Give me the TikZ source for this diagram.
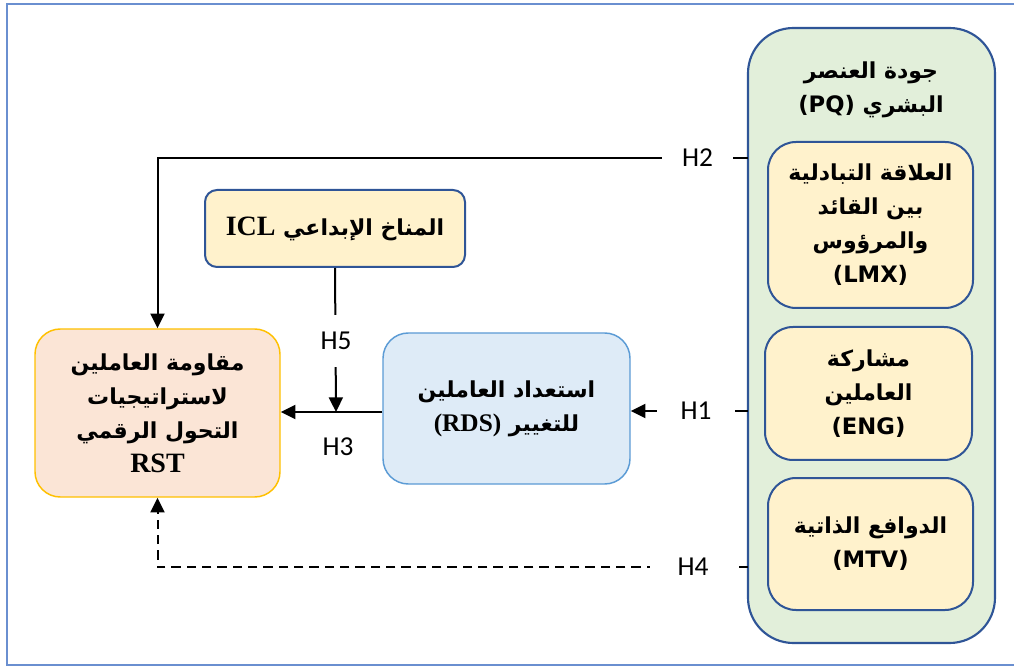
\documentclass[tikz,border=0pt]{standalone}
\usepackage{fontspec}
\usetikzlibrary{arrows.meta}
\TeXXeTstate=1
\newfontfamily\arabicfont[Script=Arabic]{DejaVu Sans}
\newfontfamily\latsans{DejaVu Sans}
\newfontfamily\timesfont{Liberation Serif}
\newfontfamily\hfont{Carlito}
\definecolor{pqblue}{HTML}{2F5597}
\definecolor{framebl}{HTML}{6A8FD0}
\definecolor{pqgreen}{HTML}{E2EFDA}
\definecolor{softyel}{HTML}{FFF2CC}
\definecolor{rstfill}{HTML}{FBE5D6}
\definecolor{rstline}{HTML}{FFC000}
\definecolor{rdsfill}{HTML}{DEEBF7}
\definecolor{rdsline}{HTML}{5B9BD5}
\newcommand\artext[1]{\beginR#1\endR}
\newcommand\ltrtext[1]{\beginL#1\endL}
\newcommand\latb{\latsans\bfseries\fontsize{17}{26}\selectfont}
\begin{document}
\begin{tikzpicture}[x=0.75pt,y=-0.75pt,
  arfont/.style={font=\arabicfont\bfseries\fontsize{16.5}{25.5}\selectfont},
  ybox/.style={draw=pqblue, line width=1.5pt, fill=softyel, rounded corners=21pt, align=center, inner sep=0pt, arfont},
  conn/.style={line width=1.5pt, -{Triangle[length=11pt,width=10.5pt]}},
  hlab/.style={font=\hfont\fontsize{20.5}{24}\selectfont, fill=white, inner sep=0pt}
]
\useasboundingbox (0,0) rectangle (1014,666);
% outer frame
\draw[framebl, line width=1.3pt] (1030,4) -- (7,4) -- (7,665) -- (1030,665);

% right panel
\node[draw=pqblue, line width=1.6pt, fill=pqgreen, rounded corners=34pt,
      minimum width=247*0.75pt, minimum height=615*0.75pt, inner sep=0pt] (pq) at (871.5,335.5) {};
\node[arfont, align=center] (pqtitle) at (871,90)
  {\artext{جودة العنصر}\\ \artext{البشري \ltrtext{\latb (PQ)}}};
\node[ybox, minimum width=205*0.75pt, minimum height=166*0.75pt] (lmx) at (870.5,225)
  {\artext{العلاقة التبادلية}\\ \artext{بين القائد}\\ \artext{والمرؤوس}\\ {\latb (LMX)}};
\node[ybox, minimum width=207*0.75pt, minimum height=133*0.75pt] (eng) at (868.5,393.5)
  {\artext{مشاركة}\\ \artext{العاملين}\\ {\latb (ENG)}};
\node[ybox, minimum width=205*0.75pt, minimum height=132*0.75pt] (mtv) at (870.5,544)
  {\artext{الدوافع الذاتية}\\ {\latb (MTV)}};

% ICL
\node[ybox, rounded corners=9pt, minimum width=260*0.75pt, minimum height=77*0.75pt] (icl) at (335,228.5)
  {\artext{المناخ الإبداعي \ltrtext{\timesfont\bfseries\fontsize{21}{26}\selectfont ICL}}};

% RST
\node[draw=rstline, line width=1.1pt, fill=rstfill, rounded corners=19pt, align=center, inner sep=0pt, arfont,
      minimum width=245*0.75pt, minimum height=168*0.75pt] (rst) at (157.5,413)
  {\artext{مقاومة العاملين}\\ \artext{لاستراتيجيات}\\ \artext{التحول الرقمي}\\ {\timesfont\bfseries\fontsize{21}{26}\selectfont RST}};

% RDS
\node[draw=rdsline, line width=1.1pt, fill=rdsfill, rounded corners=19pt, align=center, inner sep=0pt, arfont,
      minimum width=247*0.75pt, minimum height=151*0.75pt] (rds) at (506.5,408.5)
  {\artext{استعداد العاملين}\\ \artext{للتغيير \ltrtext{\timesfont\bfseries\fontsize{19}{26}\selectfont (RDS)}}};

% connector coordinates
\coordinate (h2s) at (748,158);
\coordinate (h1s) at (748,411);
\coordinate (h4s) at (748,567);
\coordinate (h3) at (336,412);

% H2
\draw[conn] (h2s) -- (h2s -| rst.north) -- (rst.north);
\node[hlab, minimum width=53pt, minimum height=20pt] (lh2) at (697.5,158) {H2};
% H1
\draw[conn] (h1s) -- (h1s -| rds.east);
\node[hlab, minimum width=58pt, minimum height=20pt] (lh1) at (696,411) {H1};
% H4
\draw[line width=1.5pt, dash pattern=on 7pt off 4.5pt, -{Triangle[length=11pt,width=10.5pt]}]
  (h4s) -- (h4s -| rst.south) -- (rst.south);
\node[hlab, minimum width=64pt, minimum height=20pt] (lh4) at (693,567) {H4};
% H3
\draw[conn] (h3 -| rds.west) -- (h3 -| rst.east);
\node[font=\hfont\fontsize{20.5}{24}\selectfont, inner sep=0pt] (lh3) at (338,447) {H3};
% H5
\draw[conn] (icl.south) -- (h3);
\node[hlab, minimum width=30pt, minimum height=39pt] (lh5) at (336,341) {\raisebox{-4pt}{H5}};
\end{tikzpicture}
\end{document}
